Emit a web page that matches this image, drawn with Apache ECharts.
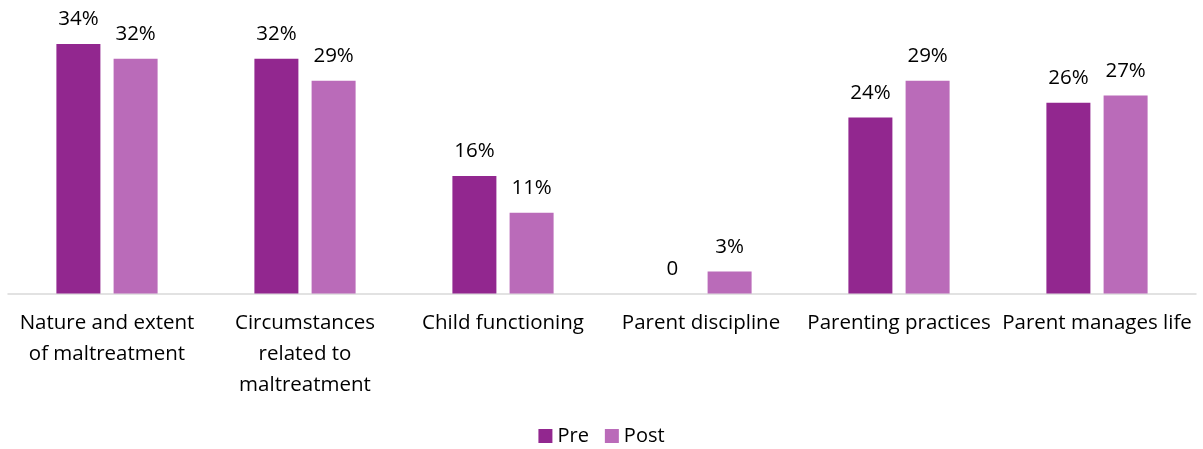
<!DOCTYPE html>
<html>
<head>
<meta charset="utf-8">
<script src="https://cdn.jsdelivr.net/npm/echarts@6/dist/echarts.min.js"></script>
<style>
html,body{margin:0;padding:0;background:#fff;}
#chart{width:1203px;height:449px;}
</style>
</head>
<body>
<div id="chart"></div>
<script>
const categories = ["Nature and extent\nof maltreatment", "Circumstances\nrelated to\nmaltreatment", "Child functioning", "Parent discipline", "Parenting practices", "Parent manages life"];
const preValues = [34, 32, 16, 0, 24, 26];
const postValues = [32, 29, 11, 3, 29, 27];
const seriesNames = ["Pre", "Post"];

const FONT = "Open Sans";
const chart = echarts.init(document.getElementById('chart'), null, {renderer: 'canvas'});
const fmt = p => p.value === 0 ? '0' : p.value + '%';
chart.setOption({
  animation: false,
  textStyle: {fontFamily: FONT},
  grid: {left: 8, right: 7, top: 0, bottom: 155.5, containLabel: false},
  legend: {
    data: seriesNames,
    bottom: -2,
    left: 'center',
    itemWidth: 14, itemHeight: 14, itemGap: 16,
    icon: 'rect',
    textStyle: {fontFamily: FONT, fontSize: 20, color: '#000'}
  },
  xAxis: {
    type: 'category',
    data: categories,
    axisLine: {lineStyle: {color: '#d9d9d9', width: 1.5}},
    axisTick: {show: false},
    axisLabel: {interval: 0, fontFamily: FONT, fontSize: 20.5, color: '#000', lineHeight: 31, margin: 14}
  },
  yAxis: {
    type: 'value', min: 0, max: 40, show: false,
    splitLine: {show: false}
  },
  series: [
    {name: seriesNames[0], type: 'bar', data: preValues, barWidth: 44, barGap: '30%',
     itemStyle: {color: '#92278F'},
     label: {show: true, position: 'top', distance: 14, formatter: fmt, fontFamily: FONT, fontSize: 20.5, color: '#000'}},
    {name: seriesNames[1], type: 'bar', data: postValues, barWidth: 44,
     itemStyle: {color: '#BA6BB9'},
     label: {show: true, position: 'top', distance: 14, formatter: fmt, fontFamily: FONT, fontSize: 20.5, color: '#000'}}
  ]
});
</script>
</body>
</html>
